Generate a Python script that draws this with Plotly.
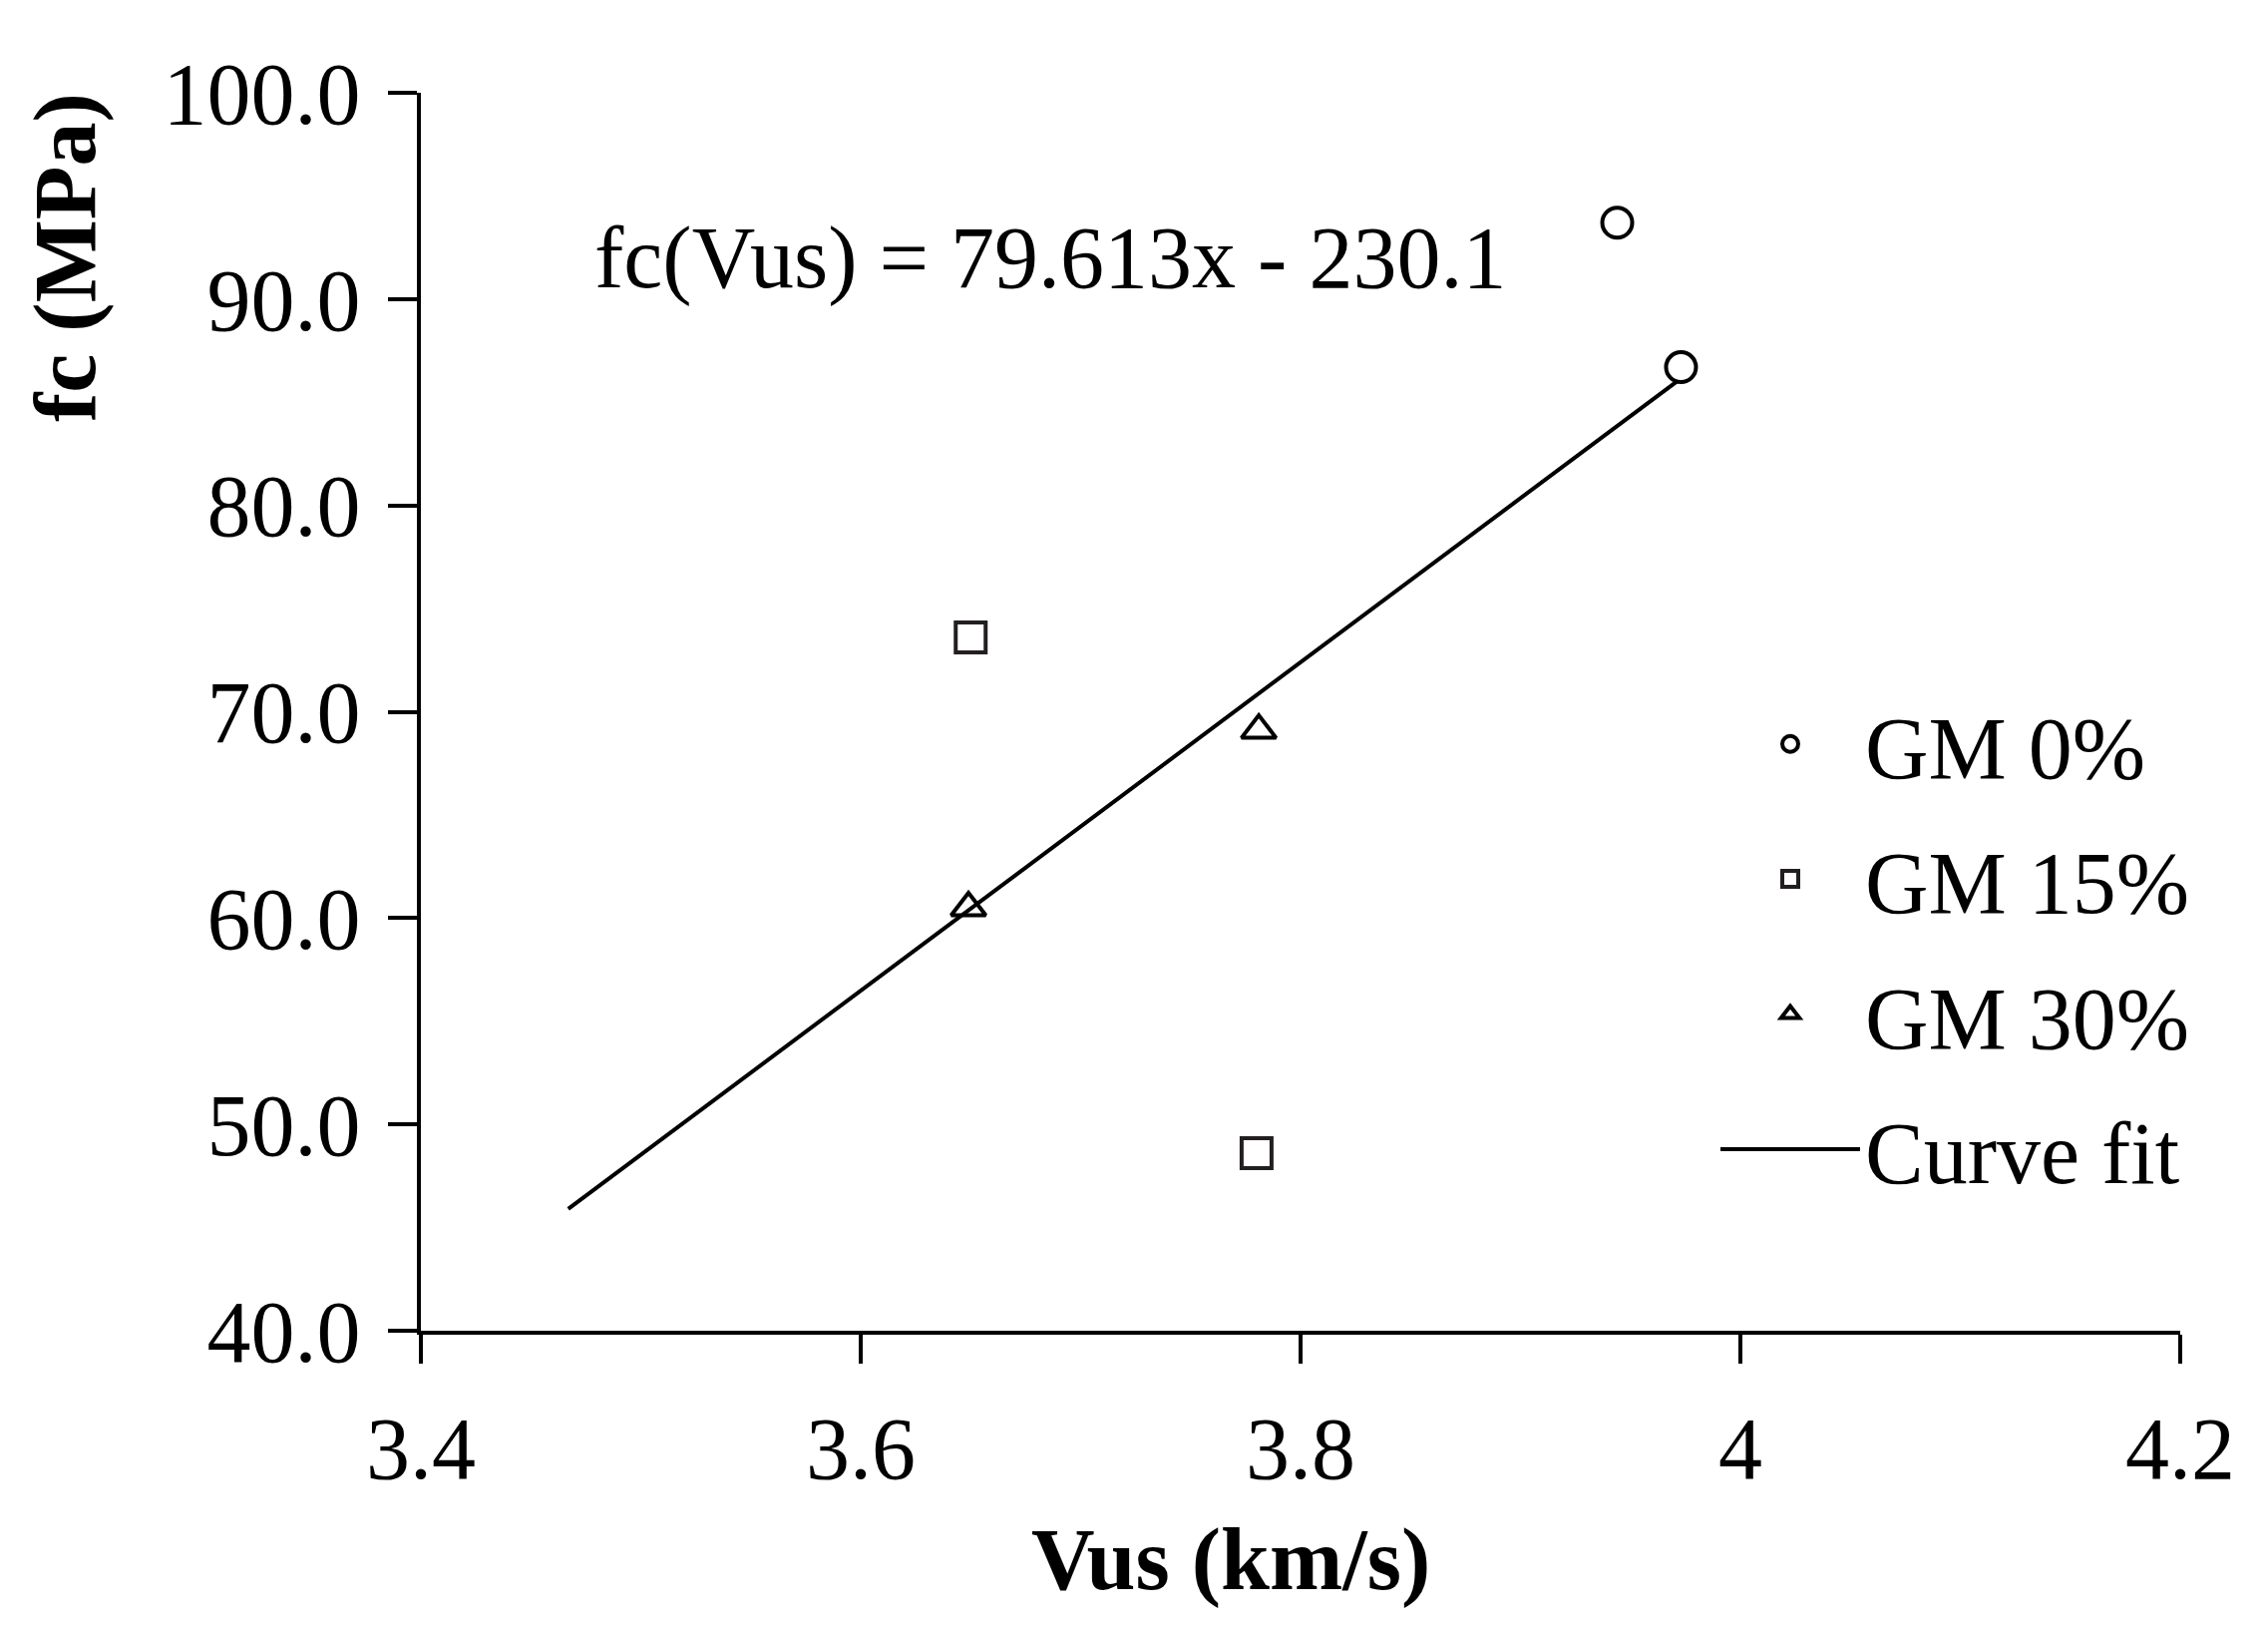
import plotly.graph_objects as go

gm0_x = [3.944, 3.973]
gm0_y = [93.7, 86.7]
gm15_x = [3.650, 3.780]
gm15_y = [73.6, 48.6]
gm30_x = [3.649, 3.781]
gm30_y = [60.5, 69.1]
fit_x = [3.467, 3.971]
fit_y = [45.9, 86.0]

x_ticks = [3.4, 3.6, 3.8, 4.0, 4.2]
x_ticktext = ["3.4", "3.6", "3.8", "4", "4.2"]
y_ticks = [40, 50, 60, 70, 80, 90, 100]

equation = "fc(Vus) = 79.613x - 230.1"

FONT = "Liberation Serif"
FS = 88

fig = go.Figure()

fig.add_trace(go.Scatter(
    x=gm0_x, y=gm0_y, mode="markers", name="GM 0%", legendgroup="a",
    marker=dict(symbol="circle-open", size=30, color="black", line=dict(width=4, color="black"))
))
fig.add_trace(go.Scatter(
    x=gm15_x, y=gm15_y, mode="markers", name="GM 15%", legendgroup="b",
    marker=dict(symbol="square-open", size=30, color="#231f20", line=dict(width=4, color="#231f20"))
))
fig.add_trace(go.Scatter(
    x=gm30_x, y=gm30_y, mode="markers", name="GM 30%", legendgroup="c",
    marker=dict(symbol="triangle-up-open", size=30, color="black", line=dict(width=4, color="black"))
))
fig.add_trace(go.Scatter(
    x=fit_x, y=fit_y, mode="lines", name="Curve fit", legendgroup="d",
    line=dict(color="black", width=4)
))

W, H = 2274, 1630
L, R, T, B = 414, 96, 85, 304
pw, ph = W - L - R, H - T - B


def px_to_paper(px, py):
    return (px - L) / pw, (H - B - py) / ph


fig.add_annotation(
    x=3.478, y=92.0, xref="x", yref="y", text=equation, showarrow=False,
    xanchor="left", yanchor="middle", font=dict(family=FONT, size=FS, color="black")
)
# axis titles placed as in the original
tx, ty = px_to_paper(1226, 1555)
fig.add_annotation(
    x=tx, y=ty, xref="paper", yref="paper", text="<b>Vus (km/s)</b>", showarrow=False,
    xanchor="center", yanchor="middle", font=dict(family=FONT, size=FS, color="black")
)
tx, ty = px_to_paper(58, 250)
fig.add_annotation(
    x=tx, y=ty, xref="paper", yref="paper", text="<b>fc (MPa)</b>", showarrow=False,
    xanchor="center", yanchor="middle", textangle=-90,
    font=dict(family=FONT, size=FS, color="black")
)

fig.update_xaxes(
    range=[3.4, 4.2], tickvals=x_ticks, ticktext=x_ticktext,
    showline=True, linewidth=4, linecolor="black",
    ticks="outside", ticklen=29, tickwidth=4, tickcolor="black",
    showgrid=False, zeroline=False, ticklabelstandoff=9,
    tickfont=dict(family=FONT, size=FS, color="black")
)
fig.update_yaxes(
    range=[40, 100], tickvals=y_ticks, tickformat=".1f",
    showline=True, linewidth=4, linecolor="black",
    ticks="outside", ticklen=29, tickwidth=4, tickcolor="black",
    showgrid=False, zeroline=False, ticklabelstandoff=10,
    tickfont=dict(family=FONT, size=FS, color="black")
)

lx, ly = px_to_paper(1712, 674)
fig.update_layout(
    width=W, height=H,
    margin=dict(l=L, r=R, t=T, b=B),
    paper_bgcolor="white", plot_bgcolor="white",
    font=dict(family=FONT, size=FS, color="black"),
    legend=dict(
        x=lx, y=ly, xanchor="left", yanchor="top",
        bgcolor="rgba(0,0,0,0)", tracegroupgap=18, itemwidth=140,
        font=dict(family=FONT, size=FS, color="black")
    ),
    showlegend=True
)

fig.write_html("out.html")
